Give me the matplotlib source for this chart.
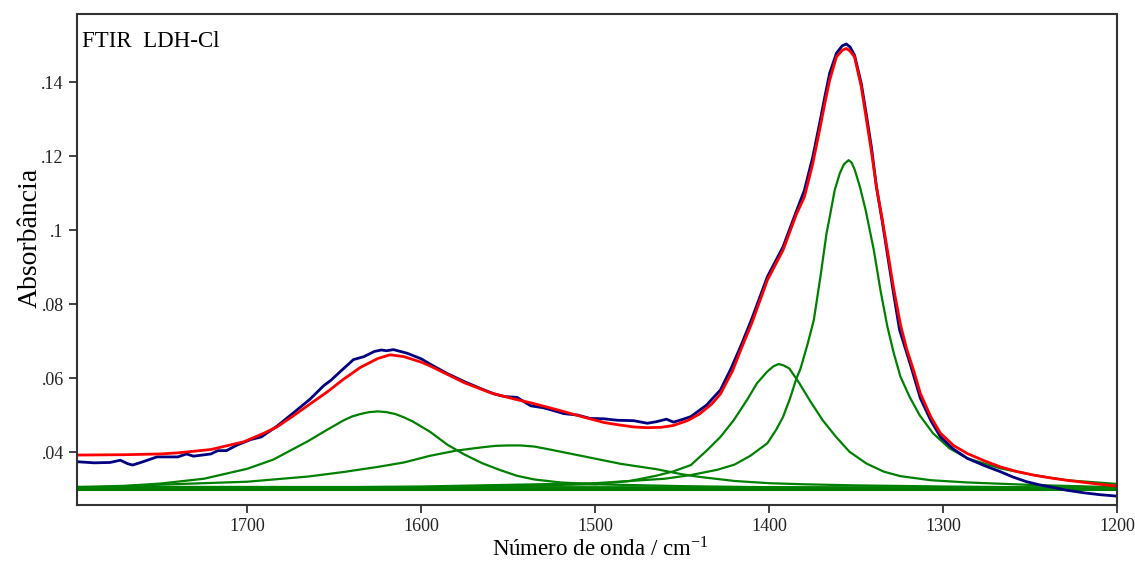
#!/usr/bin/env python
# -*- coding: utf-8 -*-
#####
import matplotlib
matplotlib.use('Agg')
import matplotlib.pyplot as plt
from matplotlib.ticker import FuncFormatter
#####
# measured spectrum (wavenumber, absorbance)
wn_exp = [1798, 1788, 1779, 1773, 1769, 1766, 1760, 1752, 1740, 1735, 1731, 1721, 1717, 1712, 1706,
	1698, 1692, 1683, 1673, 1664, 1656, 1652, 1646.5, 1639, 1633, 1627, 1623, 1620, 1616, 1612,
	1608, 1600, 1595, 1585, 1575, 1566, 1558, 1552, 1545, 1537, 1530, 1526, 1518, 1510, 1503,
	1495, 1487, 1478, 1470, 1465, 1459, 1455, 1450, 1445, 1436, 1428, 1422, 1416, 1410, 1401,
	1392, 1384.5, 1379.7, 1374.9, 1371, 1368, 1365.2, 1361.3, 1358, 1355.6, 1353.5, 1350.9, 1347,
	1344.2, 1341.2, 1338.3, 1335, 1332, 1328.5, 1325, 1319, 1313, 1307, 1301.5, 1294, 1286, 1276,
	1267, 1260, 1252, 1245, 1237, 1229, 1219, 1210, 1200]
abs_exp = [0.0374, 0.0371, 0.0372, 0.0378, 0.0369, 0.0365, 0.0374, 0.0387, 0.0387, 0.0395, 0.0389,
	0.0395, 0.0404, 0.0404, 0.0419, 0.0434, 0.0441, 0.0470, 0.0508, 0.0543, 0.0580, 0.0594, 0.0618,
	0.0650, 0.0658, 0.0672, 0.0676, 0.0674, 0.0677, 0.0672, 0.0667, 0.0652, 0.0638, 0.0612, 0.0590,
	0.0572, 0.0557, 0.0550, 0.0548, 0.0525, 0.0520, 0.0515, 0.0504, 0.0500, 0.0491, 0.0490, 0.0486,
	0.0485, 0.0478, 0.0482, 0.0489, 0.0481, 0.0488, 0.0496, 0.0527, 0.0568, 0.0625, 0.0690, 0.0760,
	0.0874, 0.0955, 0.1049, 0.1108, 0.1198, 0.1288, 0.1360, 0.1424, 0.1478, 0.1498, 0.1503, 0.1495,
	0.1473, 0.1396, 0.1315, 0.1225, 0.1117, 0.1025, 0.0935, 0.0830, 0.0730, 0.0640, 0.0545, 0.0485,
	0.0441, 0.0408, 0.0383, 0.0363, 0.0347, 0.0333, 0.0320, 0.0312, 0.0305, 0.0297, 0.0290, 0.0285,
	0.0281]

# fitted envelope
wn_fit = [1798, 1770, 1750, 1740, 1721, 1702, 1691, 1683, 1673, 1664, 1654, 1645, 1635, 1625, 1618,
	1610, 1600, 1595, 1585, 1575, 1560, 1547, 1536, 1520, 1507, 1495, 1487, 1478, 1470, 1462, 1455,
	1447, 1440, 1433, 1428, 1421, 1416, 1410, 1401, 1392, 1384.5, 1379.7, 1374.9, 1371, 1368, 1365.2,
	1361.3, 1358, 1355.6, 1353.5, 1350.9, 1347, 1344, 1341, 1338.3, 1335, 1332, 1328.5, 1324.5, 1321,
	1317, 1313, 1307, 1301.5, 1294, 1286, 1276, 1267, 1258, 1248, 1238, 1229, 1215, 1200]
abs_fit = [0.0392, 0.0393, 0.0395, 0.0398, 0.0407, 0.0428, 0.0450, 0.0468, 0.0500, 0.0530, 0.0563,
	0.0596, 0.0629, 0.0653, 0.0663, 0.0658, 0.0643, 0.0633, 0.0610, 0.0587, 0.0560, 0.0544, 0.0532,
	0.0512, 0.0495, 0.0480, 0.0474, 0.0468, 0.0466, 0.0467, 0.0472, 0.0485, 0.0503, 0.0530, 0.0557,
	0.0620, 0.0680, 0.0748, 0.0865, 0.0946, 0.1041, 0.1090, 0.1180, 0.1270, 0.1342, 0.1405, 0.1468,
	0.1486, 0.1491, 0.1484, 0.1468, 0.1387, 0.1297, 0.1207, 0.1117, 0.1030, 0.0946, 0.0845, 0.0745,
	0.0680, 0.0622, 0.0558, 0.0495, 0.0451, 0.0418, 0.0396, 0.0376, 0.0360, 0.0348, 0.0338, 0.0330,
	0.0324, 0.0316, 0.0308]

# fitted bands
wn_b1 = [1798, 1770, 1750, 1725, 1700, 1685, 1675, 1665, 1655, 1645, 1640, 1635, 1630, 1625, 1620,
	1615, 1610, 1605, 1595, 1585, 1575, 1565, 1555, 1545, 1535, 1520, 1500, 1450, 1400, 1300, 1200]
abs_b1 = [0.0305, 0.0309, 0.0315, 0.0328, 0.0355, 0.0380, 0.0405, 0.0430, 0.0458, 0.0485, 0.0496,
	0.0503, 0.0508, 0.0510, 0.0508, 0.0503, 0.0494, 0.0483, 0.0455, 0.0420, 0.0393, 0.0370, 0.0352,
	0.0336, 0.0326, 0.0318, 0.0313, 0.0308, 0.0305, 0.0303, 0.0302]

wn_b2 = [1798, 1750, 1700, 1665, 1645, 1625, 1610, 1595, 1580, 1565, 1557, 1550, 1543, 1535, 1525,
	1505, 1485, 1465, 1450, 1440, 1420, 1400, 1380, 1350, 1300, 1250, 1200]
abs_b2 = [0.0303, 0.0312, 0.0320, 0.0334, 0.0346, 0.0360, 0.0372, 0.0390, 0.0404, 0.0413, 0.0417,
	0.0418, 0.0418, 0.0415, 0.0406, 0.0387, 0.0368, 0.0354, 0.0340, 0.0333, 0.0322, 0.0316, 0.0313,
	0.0310, 0.0307, 0.0305, 0.0304]

wn_b3 = [1798, 1700, 1600, 1500, 1480, 1465, 1455, 1445, 1435.7, 1428, 1420.4, 1412.7, 1407, 1401.2,
	1397.5, 1394.5, 1391.5, 1388.4, 1382.6, 1376.8, 1369.2, 1361.5, 1353.8, 1344, 1334, 1324.5, 1307,
	1286, 1248, 1200]
abs_b3 = [0.0300, 0.0302, 0.0305, 0.0313, 0.0322, 0.0336, 0.0348, 0.0365, 0.0405, 0.0441, 0.0486,
	0.0541, 0.0586, 0.0617, 0.0632, 0.0638, 0.0634, 0.0626, 0.0586, 0.0541, 0.0486, 0.0441, 0.0401,
	0.0369, 0.0347, 0.0335, 0.0324, 0.0318, 0.0311, 0.0305]

wn_b4 = [1798, 1700, 1600, 1500, 1460, 1445, 1430, 1420, 1410.8, 1401, 1396, 1392, 1388, 1384.3,
	1382, 1378, 1374.3, 1370.5, 1367, 1365.3, 1362.3, 1359.4, 1357, 1354.3, 1352.5, 1350.7, 1347.8,
	1344.5, 1339.8, 1336, 1332, 1328.3, 1324.5, 1319.2, 1313.5, 1305.8, 1296.2, 1286, 1267, 1248,
	1229, 1200]
abs_b4 = [0.0301, 0.0303, 0.0307, 0.0316, 0.0328, 0.0338, 0.0352, 0.0366, 0.0390, 0.0424, 0.0460,
	0.0495, 0.0545, 0.0599, 0.0625, 0.0690, 0.0757, 0.0874, 0.0991, 0.1032, 0.1108, 0.1153, 0.1178,
	0.1189, 0.1182, 0.1162, 0.1117, 0.1054, 0.0946, 0.0838, 0.0739, 0.0667, 0.0604, 0.0549, 0.0500,
	0.0451, 0.0410, 0.0383, 0.0356, 0.0338, 0.0324, 0.0314]

# flat baseline terms
wn_base = [1798, 1200]
abs_base1 = [0.0300, 0.0300]
abs_base2 = [0.0305, 0.0303]

yticks = [0.04, 0.06, 0.08, 0.10, 0.12, 0.14]
xticks = [1700, 1600, 1500, 1400, 1300, 1200]

#####
def fmt_abs(v, pos):
	s = ('%.2f' % v).rstrip('0')
	return s[1:] if s.startswith('0') else s

def main():
	plt.rcParams['font.family'] = ['Liberation Serif', 'DejaVu Serif']
	plt.rcParams['mathtext.fontset'] = 'stix'

	fig = plt.figure(figsize=(11.35, 5.61), dpi=100)
	ax = fig.add_axes([0.0678, 0.0998, 0.9163, 0.8752])

	green = '#008000'
	ax.plot(wn_base, abs_base1, color=green, lw=2.2)
	ax.plot(wn_base, abs_base2, color=green, lw=2.2)
	for w, a in [(wn_b1, abs_b1), (wn_b2, abs_b2), (wn_b3, abs_b3), (wn_b4, abs_b4)]:
		ax.plot(w, a, color=green, lw=1.6)
	ax.plot(wn_exp, abs_exp, color='#000080', lw=2.0)
	ax.plot(wn_fit, abs_fit, color='#ff0000', lw=2.0)

	ax.set_xlim(1798, 1200)
	ax.set_ylim(0.0257, 0.1584)
	ax.set_xticks(xticks)
	ax.set_yticks(yticks)
	ax.yaxis.set_major_formatter(FuncFormatter(fmt_abs))
	ax.tick_params(direction='out', length=6, width=1.2, labelsize=13, colors='#222222')
	for sp in ax.spines.values():
		sp.set_linewidth(1.5)
		sp.set_color('#333333')

	ax.set_xlabel('Número de onda / cm$^{\\mathregular{-1}}$', fontsize=16.5)
	ax.xaxis.set_label_coords(0.503, -0.066)
	ax.set_ylabel('Absorbância', fontsize=20)
	ax.yaxis.set_label_coords(-0.033, 0.545)
	ax.text(0.005, 0.965, 'FTIR  LDH-Cl', transform=ax.transAxes, fontsize=16.5,
		ha='left', va='top')

	fig.savefig('out.png', dpi=100)

if __name__ == '__main__':
	main()
